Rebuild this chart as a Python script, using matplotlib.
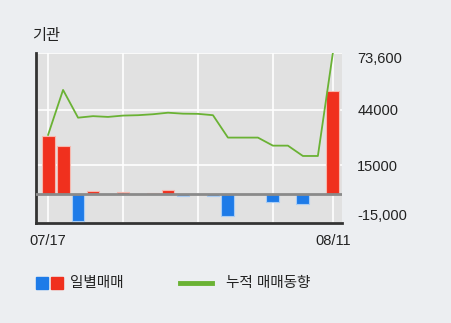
import matplotlib
matplotlib.use('agg')
import matplotlib.pyplot as plt
from matplotlib.patches import Rectangle
from matplotlib.lines import Line2D
from matplotlib.transforms import ScaledTranslation

plt.rcParams['font.family'] = ['Liberation Sans', 'Noto Sans CJK KR', 'DejaVu Sans']

# 일별 매매 (기관), 2017-07-17 ~ 2017-08-11
daily = [30300, 25000, -14400, 1300, -300, 800, 200, 400, 2000, -900,
         -100, -900, -11300, 0, 0, -4000, 0, -5100, 0, 53800]
# 누적 매매동향
cumul = [30800, 54300, 39800, 40600, 40200, 40900, 41100, 41600, 42400, 41900,
         41800, 41100, 29400, 29400, 29400, 25200, 25200, 19800, 19800, 73600]
x_ticks = [0, 5, 10, 15, 19]
x_labels = ['07/17', '', '', '', '08/11']
y_ticks = [73600, 44000, 15000, -15000]
y_labels = ['73,600', '44000', '15000', '-15,000']

fig = plt.figure(figsize=(4.51, 3.23), dpi=100, facecolor='#eceef1')
ax = fig.add_axes([0.080, 0.310, 0.678, 0.526], facecolor='#e1e1e1')

xs = list(range(len(daily)))
colors = ['#f0301e' if v >= 0 else '#1e7be8' for v in daily]
edges = ['#f6b8ae' if v >= 0 else '#a9cdf5' for v in daily]
ax.bar(xs, daily, width=0.86, color=colors, edgecolor=edges, linewidth=0.8, zorder=3)
ax.axhline(0, color='#8a8a8a', linewidth=2, zorder=4)
ax.plot(xs, cumul, color='#6ab234', linewidth=1.3, zorder=5)

ax.set_xlim(-0.8, 19.6)
ax.set_ylim(-15140, 73600)
ax.set_xticks(x_ticks)
ax.set_xticklabels(x_labels, fontsize=10.5, color='#222222')
ax.set_yticks(y_ticks)
ax.set_yticklabels(y_labels, fontsize=10.5, color='#222222')
ax.yaxis.tick_right()
ax.tick_params(axis='y', length=0, pad=11)
ax.tick_params(axis='x', length=0, pad=8)
ax.grid(True, color='white', linewidth=1.2, zorder=0)
ax.set_axisbelow(True)

# 위/아래 끝 라벨은 안쪽으로
shifts = [-5, 0, 0, 8]
for lab, dy in zip(ax.get_yticklabels(), shifts):
    lab.set_transform(lab.get_transform() + ScaledTranslation(0, dy / 100, fig.dpi_scale_trans))

for side in ('top', 'right'):
    ax.spines[side].set_visible(False)
for side in ('left', 'bottom'):
    ax.spines[side].set_color('#333333')
    ax.spines[side].set_linewidth(2)

fig.text(0.071, 0.888, '기관', fontsize=11, color='#222222', va='center')

# 범례
W, H = 451, 323
fig.patches.append(Rectangle((36 / W, 1 - 289 / H), 12 / W, 12 / H,
                             transform=fig.transFigure, color='#1e7be8'))
fig.patches.append(Rectangle((51 / W, 1 - 289 / H), 12 / W, 12 / H,
                             transform=fig.transFigure, color='#f0301e'))
fig.text(70 / W, 1 - 283 / H, '일별매매', fontsize=10.5, color='#222222', va='center')
fig.lines.append(Line2D([180 / W, 212 / W], [1 - 283 / H, 1 - 283 / H],
                        transform=fig.transFigure, color='#6ab234', linewidth=3.5))
fig.text(226 / W, 1 - 283 / H, '누적 매매동향', fontsize=10.5, color='#222222', va='center')

fig.savefig('out.png', dpi=100, facecolor=fig.get_facecolor())
